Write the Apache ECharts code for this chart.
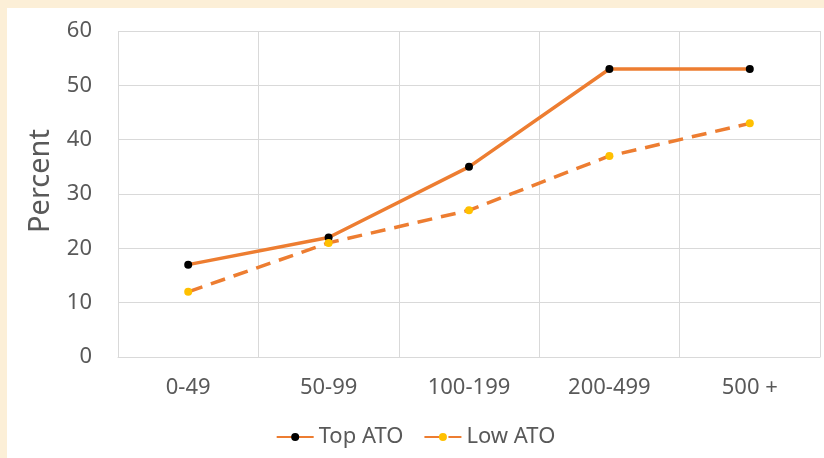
<!DOCTYPE html>
<html>
<head>
<meta charset="utf-8">
<script src="https://cdn.jsdelivr.net/npm/echarts@6/dist/echarts.min.js"></script>
<style>
  html, body { margin: 0; padding: 0; }
  body { width: 824px; height: 458px; background: #fcefd7; position: relative; overflow: hidden; }
  #chart { position: absolute; left: 7px; top: 8px; width: 817px; height: 450px; background: #fff; }
</style>
</head>
<body>
<div id="chart"></div>
<script>
// data
var categories = ['0-49', '50-99', '100-199', '200-499', '500 +'];
var topAto = [17, 22, 35, 53, 53];
var lowAto = [12, 21, 27, 37, 43];

var chart = echarts.init(document.getElementById('chart'));
var txt = '#595959';
var font = '"Noto Sans", sans-serif';

var option = {
  animation: false,
  grid: { left: 111, top: 23, right: 4, bottom: 101 },
  legend: {
    bottom: 5,
    left: 'center',
    itemWidth: 37,
    itemHeight: 10,
    itemGap: 20,
    textStyle: { color: txt, fontSize: 22, fontFamily: font },
    data: ['Top ATO', 'Low ATO']
  },
  xAxis: {
    type: 'category',
    data: categories,
    boundaryGap: true,
    axisLine: { lineStyle: { color: '#d9d9d9', width: 1 } },
    axisTick: { show: false },
    axisLabel: { color: txt, fontSize: 22, fontFamily: font, margin: 20 },
    splitLine: { show: true, lineStyle: { color: '#d9d9d9', width: 1 } }
  },
  yAxis: {
    type: 'value',
    min: 0,
    max: 60,
    interval: 10,
    name: 'Percent',
    nameLocation: 'middle',
    nameGap: 63,
    nameTextStyle: { color: txt, fontSize: 29, fontFamily: font, padding: [0, 0, 0, 26] },
    axisLine: { show: false },
    axisTick: { show: false },
    axisLabel: { color: txt, fontSize: 22, fontFamily: font, margin: 26 },
    splitLine: { lineStyle: { color: '#d9d9d9', width: 1 } }
  },
  series: [
    {
      name: 'Top ATO',
      type: 'line',
      data: topAto,
      symbol: 'circle',
      symbolSize: 8,
      lineStyle: { color: '#ed7d31', width: 3.5 },
      itemStyle: { color: '#000', borderWidth: 0 }
    },
    {
      name: 'Low ATO',
      type: 'line',
      data: lowAto,
      symbol: 'circle',
      symbolSize: 8,
      lineStyle: { color: '#ed7d31', width: 3.5, type: [15, 9] },
      itemStyle: { color: '#ffc000', borderWidth: 0 }
    }
  ]
};

chart.setOption(option);
</script>
</body>
</html>
